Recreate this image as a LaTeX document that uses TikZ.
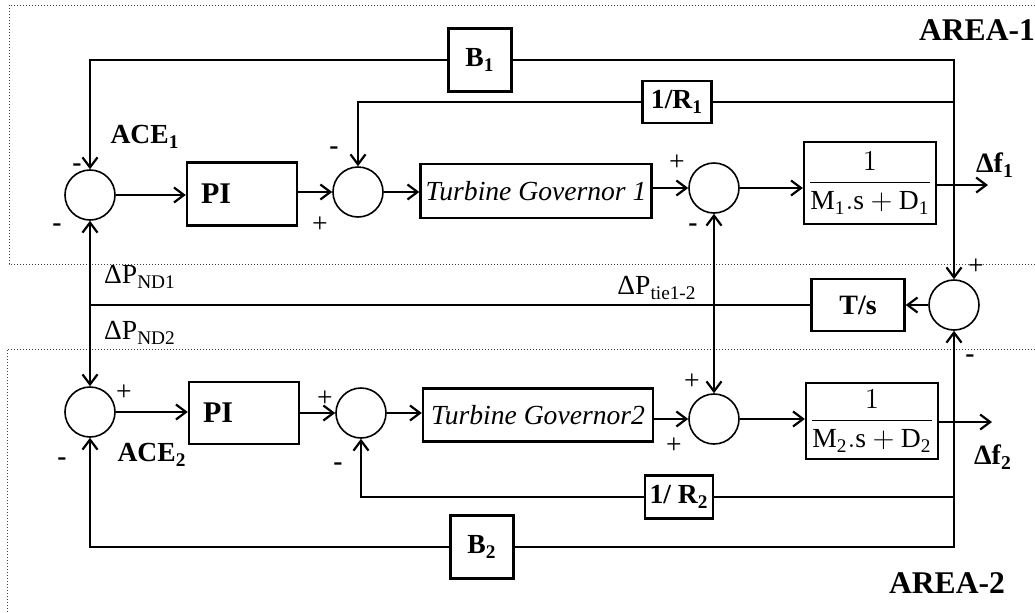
\documentclass[tikz,border=0pt]{standalone}
\usepackage{fontspec}
\setmainfont{Liberation Serif}
\usepackage{amsmath}
\usepackage{tikz}
\usetikzlibrary{arrows.meta, calc, positioning}

\begin{document}
\begin{tikzpicture}[x=0.5pt, y=-0.5pt, line width=1pt,
	font=\fontsize{13.8}{16}\selectfont,
	blk/.style={draw, line width=1.2pt, inner sep=2pt},
	sumj/.style={draw, circle, line width=0.8pt, minimum size=25pt, inner sep=0pt},
	tip/.style={Straight Barb[length=5pt, width=7.5pt, line width=1.1pt]},
	arr/.style={-{Straight Barb[length=5pt, width=7.5pt, line width=1.1pt]}},
	arrs/.style={{Straight Barb[length=5pt, width=7.5pt, line width=1.1pt]}-{Straight Barb[length=5pt, width=7.5pt, line width=1.1pt]}},
	sgn/.style={inner sep=0pt},
	big/.style={font=\fontsize{15}{18}\selectfont\bfseries},
	area/.style={densely dotted, line width=0.5pt, black!75}]
	
	\useasboundingbox (0,0) rectangle (1035,612);
	
	%//dotted frames of the two areas
	\draw[area] (1035,5) -- (9,5) -- (9,264) -- (1035,264);
	\draw[area] (1035,349) -- (7,349) -- (7,612);
	
	%//area 1
	\node[sumj] (s1) at (90,195) {};
	\node[blk, big, minimum height=31.5pt, text width=41pt, inner xsep=7pt, align=left] (pi1) at (242,194) {PI};
	\node[sumj] (s2) at (358,192) {};
	\node[blk, minimum width=115.5pt, minimum height=27pt, font=\fontsize{13.8}{16}\selectfont\itshape] (tg1) at (536,191) {Turbine Governor 1};
	\node[sumj] (s3) at (714,188) {};
	\node[blk, minimum width=62.5pt, minimum height=41pt] (pl1) at (870,183) {$\dfrac{1}{\mathrm{M_1.s+D_1}}$};
	\node[blk, minimum size=31.5pt, font=\fontsize{13.8}{16}\selectfont\bfseries] (b1) at (480,60) {B\textsubscript{1}};
	\node[blk, minimum width=34.5pt, minimum height=21pt, font=\fontsize{13.8}{16}\selectfont\bfseries] (r1) at (677,102) {1/R\textsubscript{1}};
	\coordinate (o1) at (988,185);
	
	%//tie line
	\node[sumj] (s4) at (954,305) {};
	\node[blk, minimum width=46.5pt, minimum height=26pt, font=\fontsize{14}{16}\selectfont\bfseries] (ts) at (858,305) {T/s};
	
	%//area 2
	\node[sumj] (s5) at (90,412) {};
	\node[blk, big, minimum height=31pt, text width=41pt, inner xsep=7pt, align=left] (pi2) at (244,413) {PI};
	\node[sumj] (s6) at (361,413) {};
	\node[blk, minimum width=115pt, minimum height=26.5pt, font=\fontsize{13.8}{16}\selectfont\itshape] (tg2) at (538,415) {Turbine Governor2};
	\node[sumj] (s7) at (714,419) {};
	\node[blk, minimum width=60.5pt, minimum height=38pt] (pl2) at (872,421) {$\dfrac{1}{\mathrm{M_2.s+D_2}}$};
	\node[blk, minimum width=34pt, minimum height=21.5pt, font=\fontsize{13.8}{16}\selectfont\bfseries] (r2) at (679,497) {1/ R\textsubscript{2}};
	\node[blk, minimum size=31.5pt, font=\fontsize{13.8}{16}\selectfont\bfseries] (b2) at (482,547) {B\textsubscript{2}};
	\coordinate (o2) at (992,422);
	
	%//forward paths
	\draw[arr] (s1.east) -- (s1.east -| pi1.west);
	\draw[arr] (pi1.east |- s2) -- (s2.west);
	\draw[arr] (s2.east) -- (s2.east -| tg1.west);
	\draw[arr] (tg1.east |- s3) -- (s3.west);
	\draw[arr] (s3.east) -- (s3.east -| pl1.west);
	\draw[arr] (pl1.east |- o1) -- (o1);
	
	\draw[arr] (s5.east) -- (s5.east -| pi2.west);
	\draw[arr] (pi2.east |- s6) -- (s6.west);
	\draw[arr] (s6.east) -- (s6.east -| tg2.west);
	\draw[arr] (tg2.east |- s7) -- (s7.west);
	\draw[arr] (s7.east) -- (s7.east -| pl2.west);
	\draw[arr] (pl2.east |- o2) -- (o2);
	
	%//feedback loops
	\draw[arr] (b1.west) -| (s1.north);
	\draw[arr] (b1.east) -| (s4.north);
	\draw[arr] (r1.west) -| (s2.north);
	\draw (r1.east) -- (r1.east -| s4);
	
	\draw[arr] (b2.west) -| (s5.south);
	\draw[arr] (b2.east) -| (s4.south);
	\draw[arr] (r2.west) -| (s6.south);
	\draw (r2.east) -- (r2.east -| s4);
	
	\draw[arr] (s4.west) -- (ts.east);
	\draw (ts.west) -- (ts.west -| s1);
	\draw[arrs] (s1.south) -- (s5.north);
	\draw[arrs] (s3.south) -- (s7.north);
	
	%//signs at the summing points
	\foreach \x/\y [count=\i] in {77/168, 57/228, 334/151, 693/228, 970/359, 62/462, 338/467}
	\node[sgn, font=\fontsize{13.8}{16}\selectfont\bfseries] (neg\i) at (\x,\y) {-};
	
	\foreach \x/\y [count=\i] in {320/225, 677/163, 976/267, 124/393, 325/399, 692/382, 674/446}
	\node[sgn] (pos\i) at (\x,\y) {+};
	
	%//signal names
	\node[font=\fontsize{13.8}{16}\selectfont\bfseries] (ace1) at (145,137) {ACE\textsubscript{1}};
	\node[font=\fontsize{13.8}{16}\selectfont\bfseries] (ace2) at (152,455) {ACE\textsubscript{2}};
	\node (pnd1) at (140,277) {ΔP\textsubscript{ND1}};
	\node (pnd2) at (140,333) {ΔP\textsubscript{ND2}};
	\node (ptie) at (657,288) {ΔP\textsubscript{tie1-2}};
	\node[font=\fontsize{14}{16}\selectfont\bfseries] (df1) at (995,165) {Δf\textsubscript{1}};
	\node[font=\fontsize{14}{16}\selectfont\bfseries] (df2) at (993,457) {Δf\textsubscript{2}};
	\node[big, font=\fontsize{15.8}{18}\selectfont\bfseries] (ar1) at (977,30) {AREA-1};
	\node[big, font=\fontsize{15.8}{18}\selectfont\bfseries] (ar2) at (947,583) {AREA-2};
\end{tikzpicture}
\end{document}
